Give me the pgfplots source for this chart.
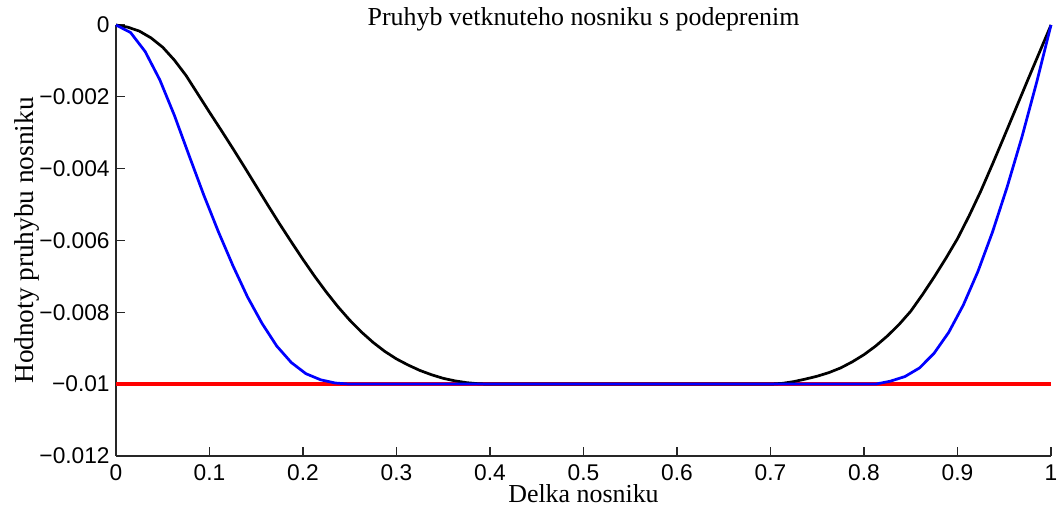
\documentclass[border=0pt]{standalone}
\usepackage{fontspec}
\setmainfont{Liberation Serif}
\setsansfont{Liberation Sans}
\usepackage{pgfplots}
\pgfplotsset{compat=1.18}

\begin{document}
\begin{tikzpicture}
\begin{axis}[
    scale only axis,
    width=411.4pt, height=189.6pt,
    xmin=0, xmax=1,
    ymin=-0.012, ymax=0,
    axis lines*=left,
    axis line style={black!85, line width=0.6pt},
    tick style={black!85, line width=0.6pt},
    tick align=inside,
    major tick length=4pt,
    clip=false,
    xtick={0,0.1,0.2,0.3,0.4,0.5,0.6,0.7,0.8,0.9,1},
    xticklabels={0,0.1,0.2,0.3,0.4,0.5,0.6,0.7,0.8,0.9,1},
    ytick={-0.012,-0.01,-0.008,-0.006,-0.004,-0.002,0},
    yticklabels={−0.012,−0.01,−0.008,−0.006,−0.004,−0.002,0},
    scaled y ticks=false,
    tick label style={font=\sffamily\fontsize{10}{12}\selectfont},
    xticklabel style={inner sep=3.8pt},
    yticklabel style={inner sep=2.6pt},
    every axis title shift=0pt,
    title={Pruhyb vetknuteho nosniku s podeprenim},
    title style={at={(axis description cs:0.5,0.9977)}, anchor=base,
                 font=\fontsize{11.4}{13}\selectfont, inner sep=0pt},
    xlabel={Delka nosniku},
    xlabel style={at={(axis description cs:0.5,-0.109)}, anchor=base,
                  font=\fontsize{11.4}{13}\selectfont, inner sep=0pt},
    ylabel={Hodnoty pruhybu nosniku},
    ylabel style={at={(axis description cs:-0.0887,0.5)}, anchor=base,
                  font=\fontsize{12}{14}\selectfont, inner sep=0pt},
]
\coordinate (sw) at (rel axis cs:0,0);
\coordinate (ne) at (rel axis cs:1,1);

% podpora
\addplot[red, line width=1.9pt] coordinates {(0,-0.01) (1,-0.01)};

% vetknuty nosnik s podeprenim
\addplot[black, line width=1.2pt] coordinates {
(0,0) (0.0125,-0.00006) (0.025,-0.00017) (0.0375,-0.00036) (0.05,-0.00062)
(0.0625,-0.00098) (0.075,-0.00141) (0.0875,-0.00192) (0.1,-0.00243)
(0.1125,-0.00293) (0.125,-0.00344) (0.1375,-0.00396) (0.15,-0.00449)
(0.1625,-0.00502) (0.175,-0.00554) (0.1875,-0.00604) (0.2,-0.00653)
(0.2125,-0.00700) (0.225,-0.00744) (0.2375,-0.00785) (0.25,-0.00822)
(0.2625,-0.00855) (0.275,-0.00884) (0.2875,-0.00909) (0.3,-0.00930)
(0.3125,-0.00947) (0.325,-0.00962) (0.3375,-0.00974) (0.35,-0.00984)
(0.3625,-0.00991) (0.375,-0.00996) (0.3875,-0.00999) (0.4,-0.01)
(0.5,-0.01) (0.6,-0.01) (0.7,-0.01)
(0.7125,-0.00998) (0.725,-0.00993) (0.7375,-0.00986) (0.75,-0.00978)
(0.7625,-0.00968) (0.775,-0.00955) (0.7875,-0.00938) (0.8,-0.00918)
(0.8125,-0.00894) (0.825,-0.00866) (0.8375,-0.00834) (0.85,-0.00797)
(0.8625,-0.00751) (0.875,-0.00702) (0.8875,-0.00650) (0.9,-0.00595)
(0.9125,-0.00531) (0.925,-0.00462) (0.9375,-0.00387) (0.95,-0.00310)
(0.9625,-0.00232) (0.975,-0.00154) (0.9875,-0.00077) (1,0)
};

% druhy pruhyb
\addplot[blue, line width=1.2pt] coordinates {
(0,0) (0.0156,-0.00021) (0.0312,-0.00074) (0.0469,-0.00153) (0.0625,-0.00252)
(0.0781,-0.00363) (0.0938,-0.00473) (0.1094,-0.00575) (0.125,-0.00670)
(0.1406,-0.00757) (0.1562,-0.00831) (0.1719,-0.00894) (0.1875,-0.00940)
(0.2031,-0.00971) (0.2188,-0.00988) (0.2344,-0.00997) (0.25,-0.01)
(0.5,-0.01) (0.8125,-0.01)
(0.8281,-0.00992) (0.8438,-0.00979) (0.8594,-0.00955) (0.875,-0.00914)
(0.8906,-0.00856) (0.9062,-0.00780) (0.9219,-0.00686) (0.9375,-0.00576)
(0.9531,-0.00451) (0.9688,-0.00313) (0.9844,-0.00162) (1,0)
};
\end{axis}
\pgfresetboundingbox
\path ([shift={(-51.04pt,-23.76pt)}]sw) rectangle ([shift={(3.08pt,11pt)}]ne);
\end{tikzpicture}
\end{document}
